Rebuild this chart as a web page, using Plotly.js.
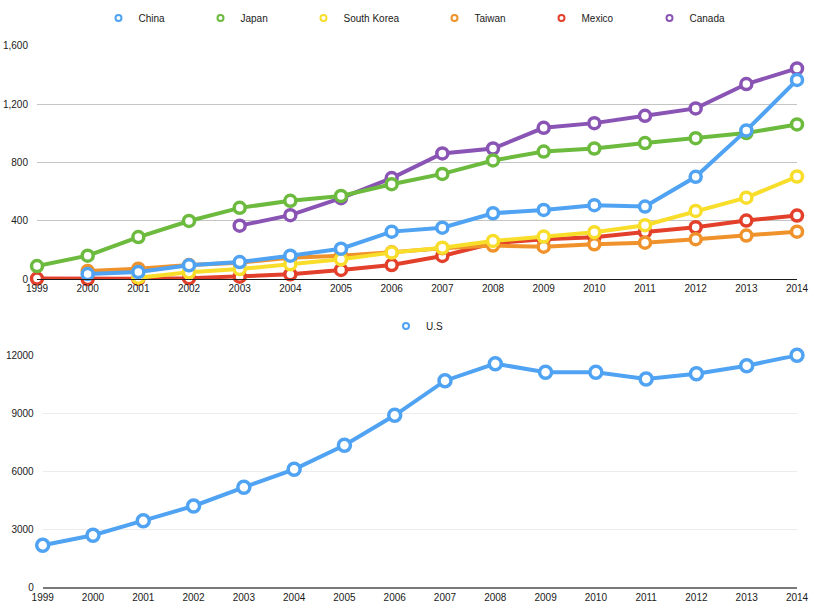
<!DOCTYPE html>
<html>
<head>
<meta charset="utf-8">
<script src="https://cdn.plot.ly/plotly-3.0.1.min.js"></script>
<style>html,body{margin:0;padding:0;background:#fff;}#chart{width:818px;height:614px;}</style>
</head>
<body>
<div id="chart"></div>
<script>
// ---- data ----
const years = [1999, 2000, 2001, 2002, 2003, 2004, 2005, 2006, 2007, 2008, 2009, 2010, 2011, 2012, 2013, 2014];
const china      = [null, 36, 50, 96, 118, 162, 210, 327, 354, 453, 476, 508, 499, 703, 1021, 1367];
const japan      = [91, 162, 290, 400, 490, 538, 572, 652, 723, 815, 876, 897, 934, 968, 1003, 1062];
const southKorea = [null, null, 11, 48, 70, 103, 137, 183, 217, 263, 293, 323, 371, 469, 560, 705];
const taiwan     = [null, 57, 73, 98, 114, 148, 162, 185, 213, 231, 224, 240, 251, 275, 300, 327];
const mexico     = [5, 2, 3, 8, 18, 34, 64, 98, 160, 247, 275, 288, 325, 357, 403, 437];
const canada     = [null, null, null, null, 368, 440, 556, 694, 863, 897, 1039, 1071, 1121, 1172, 1339, 1446];
const us         = [2173, 2690, 3445, 4206, 5173, 6104, 7346, 8898, 10688, 11568, 11122, 11122, 10776, 11052, 11465, 12000];

const seriesNames = ['China', 'Japan', 'South Korea', 'Taiwan', 'Mexico', 'Canada'];
const seriesData  = [china, japan, southKorea, taiwan, mexico, canada];
const usName = 'U.S';

// ---- styles ----
const colors = ['#4fa3f2', '#6cba3e', '#f8de2a', '#f0922b', '#e3402b', '#8a54b5'];
const legendWidths = [57, 58, 86, 62, 63, 60];
const FONT = '"Liberation Sans", Arial, Helvetica, sans-serif';

const traces = [];
// draw in reverse order so China ends up on top
for (let i = seriesNames.length - 1; i >= 0; i--) {
  traces.push({
    type: 'scatter', mode: 'lines+markers',
    x: years, y: seriesData[i], name: seriesNames[i],
    xaxis: 'x', yaxis: 'y', showlegend: false, cliponaxis: false,
    connectgaps: false,
    line: {color: colors[i], width: 4},
    marker: {symbol: 'circle', size: 11, color: '#ffffff', line: {color: colors[i], width: 3.5}},
    hoverinfo: 'x+y+name'
  });
}
// legend entries (marker only)
for (let i = 0; i < seriesNames.length; i++) {
  traces.push({
    type: 'scatter', mode: 'markers', x: [null], y: [null], name: seriesNames[i],
    xaxis: 'x', yaxis: 'y', legend: 'legend', legendwidth: legendWidths[i],
    marker: {symbol: 'circle', size: 6, color: '#ffffff', line: {color: colors[i], width: 2}},
    hoverinfo: 'skip'
  });
}
traces.push({
  type: 'scatter', mode: 'lines+markers', x: years, y: us, name: usName,
  xaxis: 'x2', yaxis: 'y2', showlegend: false, cliponaxis: false,
  line: {color: colors[0], width: 4},
  marker: {symbol: 'circle', size: 12, color: '#ffffff', line: {color: colors[0], width: 3.5}}
});
traces.push({
  type: 'scatter', mode: 'markers', x: [null], y: [null], name: usName,
  xaxis: 'x2', yaxis: 'y2', legend: 'legend2',
  marker: {symbol: 'circle', size: 6, color: '#ffffff', line: {color: colors[0], width: 2}},
  hoverinfo: 'skip'
});

const tickFont = {family: FONT, size: 10, color: '#1a1a1a'};

const layout = {
  width: 818, height: 614,
  margin: {l: 37, r: 21, t: 0, b: 0, pad: 0, autoexpand: false},
  paper_bgcolor: '#ffffff', plot_bgcolor: '#ffffff',
  font: {family: FONT, size: 10, color: '#1a1a1a'},
  showlegend: true,
  xaxis: {
    domain: [0, 1], anchor: 'y', range: [1999, 2014], tickmode: 'array', tickvals: years,
    ticktext: years.map(String), showgrid: false, zeroline: false, showline: true,
    linecolor: '#1a1a1a', linewidth: 1, ticks: '', tickfont: tickFont, fixedrange: true,
    automargin: false
  },
  yaxis: {
    domain: [0.5451, 0.9251], anchor: 'x', range: [0, 1600], tickvals: [0, 400, 800, 1200, 1600],
    tickformat: ',d', showgrid: true, gridcolor: '#c4c4c4', gridwidth: 1, zeroline: false,
    showline: false, ticks: '', tickfont: tickFont, ticklabelstandoff: 8, fixedrange: true,
    automargin: false
  },
  xaxis2: {
    domain: [0.0075, 1], anchor: 'y2', range: [1999, 2014], tickmode: 'array', tickvals: years,
    ticktext: years.map(String), showgrid: false, zeroline: false, showline: true,
    linecolor: '#7a7a7a', linewidth: 1.5, ticks: '', tickfont: tickFont, fixedrange: true,
    automargin: false
  },
  yaxis2: {
    domain: [0.0435, 0.4213], anchor: 'x2', range: [0, 12000], tickvals: [0, 3000, 6000, 9000, 12000],
    tickformat: 'd', showgrid: true, gridcolor: '#ececec', gridwidth: 1, zeroline: false,
    showline: false, ticks: '', tickfont: tickFont, ticklabelstandoff: 8, fixedrange: true,
    automargin: false
  },
  legend: {
    orientation: 'h', xref: 'container', yref: 'container',
    x: 98.5 / 818, xanchor: 'left', y: 1 - 18 / 614, yanchor: 'middle',
    font: {family: FONT, size: 10, color: '#1a1a1a'}, bgcolor: 'rgba(0,0,0,0)', borderwidth: 0,
    itemclick: false, itemdoubleclick: false
  },
  legend2: {
    orientation: 'h', xref: 'container', yref: 'container',
    x: 386 / 818, xanchor: 'left', y: 1 - 326 / 614, yanchor: 'middle',
    font: {family: FONT, size: 10, color: '#1a1a1a'}, bgcolor: 'rgba(0,0,0,0)', borderwidth: 0,
    itemclick: false, itemdoubleclick: false
  }
};

Plotly.newPlot('chart', traces, layout, {displayModeBar: false, staticPlot: true});
</script>
</body>
</html>
